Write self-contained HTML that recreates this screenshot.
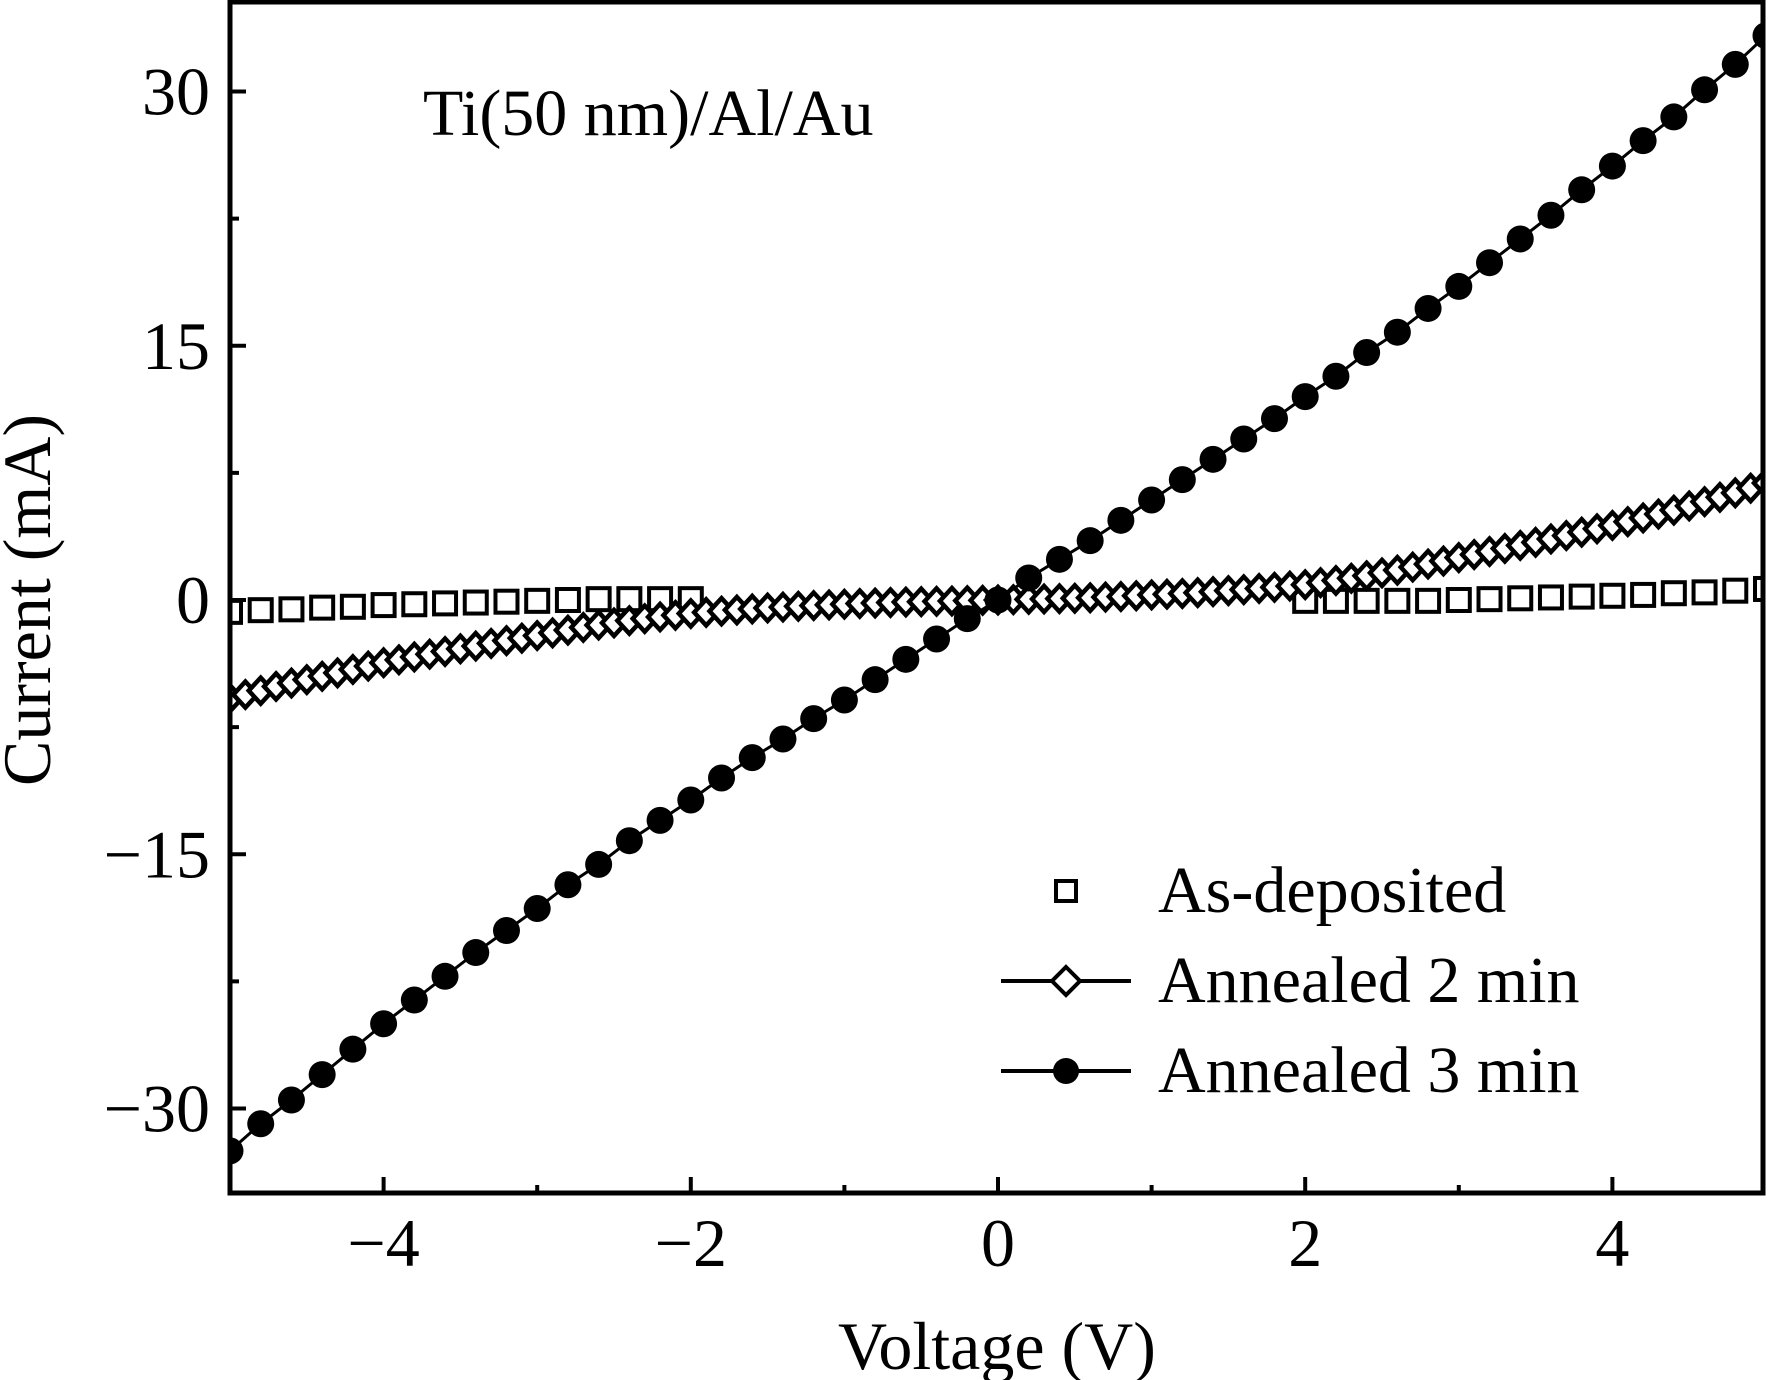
<!DOCTYPE html>
<html><head><meta charset="utf-8"><style>
html,body{margin:0;padding:0;background:#fff;}
svg{display:block;}
text{font-family:"Liberation Serif","Times New Roman",serif;fill:#000;}
</style></head><body>
<svg id="chart" width="1768" height="1380" viewBox="0 0 1768 1380" xmlns="http://www.w3.org/2000/svg">
<g id="plot"></g>
<rect x="230" y="2" width="1533" height="1191" fill="none" stroke="#000" stroke-width="5"/>
<g id="axes"></g>
<text x="423" y="135" font-size="66">Ti(50 nm)/Al/Au</text>
<text x="997" y="1369" font-size="68" text-anchor="middle">Voltage (V)</text>
<text transform="translate(50,600) rotate(-90)" font-size="68" text-anchor="middle">Current (mA)</text>
<g>
  <rect x="1056" y="881" width="20" height="20" fill="#fff" stroke="#000" stroke-width="4"/>
  <text x="1158" y="912" font-size="66">As-deposited</text>
  <line x1="1001" y1="981" x2="1131" y2="981" stroke="#000" stroke-width="4"/>
  <polygon points="1066,967 1080,981 1066,995 1052,981" fill="#fff" stroke="#000" stroke-width="4"/>
  <text x="1158" y="1002" font-size="66">Annealed 2 min</text>
  <line x1="1001" y1="1071" x2="1131" y2="1071" stroke="#000" stroke-width="4"/>
  <circle cx="1066" cy="1071" r="13" fill="#000"/>
  <text x="1158" y="1092" font-size="66">Annealed 3 min</text>
</g>
</svg>
<script>
const xTicks = [-4, -2, 0, 2, 4];
const xTickLabels = ["\u22124", "\u22122", "0", "2", "4"];
const xMinorTicks = [-3, -1, 1, 3];
const yTicks = [30, 15, 0, -15, -30];
const yTickLabels = ["30", "15", "0", "\u221215", "\u221230"];
const yMinorTicks = [22.5, 7.5, -7.5, -22.5];

const v3 = [-5,-4.8,-4.6,-4.4,-4.2,-4,-3.8,-3.6,-3.4,-3.2,-3,-2.8,-2.6,-2.4,-2.2,-2,-1.8,-1.6,-1.4,-1.2,-1,-0.8,-0.6,-0.4,-0.2,0,0.2,0.4,0.6,0.8,1,1.2,1.4,1.6,1.8,2,2.2,2.4,2.6,2.8,3,3.2,3.4,3.6,3.8,4,4.2,4.4,4.6,4.8,5];
const i3 = [-32.5,-30.9,-29.5,-28,-26.5,-25,-23.6,-22.2,-20.8,-19.5,-18.2,-16.8,-15.6,-14.2,-13,-11.8,-10.5,-9.3,-8.2,-7,-5.9,-4.7,-3.5,-2.3,-1.1,0,1.3,2.4,3.5,4.7,5.9,7.1,8.3,9.5,10.7,12,13.2,14.6,15.8,17.2,18.5,19.9,21.3,22.7,24.2,25.6,27.1,28.5,30.1,31.6,33.3];

const i2neg = [0,-0.02,-0.04,-0.06,-0.08,-0.1,-0.12,-0.15,-0.18,-0.21,-0.25,-0.29,-0.33,-0.37,-0.42,-0.47,-0.53,-0.59,-0.66,-0.73,-0.8,-0.9,-1.0,-1.1,-1.22,-1.35,-1.48,-1.62,-1.78,-1.94,-2.1,-2.25,-2.4,-2.56,-2.72,-2.88,-3.04,-3.2,-3.36,-3.53,-3.7,-3.9,-4.1,-4.3,-4.5,-4.7,-4.9,-5.1,-5.35,-5.58,-5.8];
const i2pos = [0,0.02,0.04,0.06,0.08,0.1,0.13,0.17,0.2,0.25,0.3,0.34,0.38,0.43,0.49,0.55,0.61,0.68,0.75,0.82,0.9,1.02,1.15,1.28,1.43,1.6,1.76,1.94,2.12,2.3,2.5,2.68,2.86,3.04,3.22,3.4,3.6,3.8,4.0,4.2,4.4,4.62,4.84,5.07,5.3,5.55,5.8,6.06,6.32,6.6,6.9];

const v1 = [-5,-4.8,-4.6,-4.4,-4.2,-4,-3.8,-3.6,-3.4,-3.2,-3,-2.8,-2.6,-2.4,-2.2,-2,2,2.2,2.4,2.6,2.8,3,3.2,3.4,3.6,3.8,4,4.2,4.4,4.6,4.8,5];
const i1 = [-0.7,-0.6,-0.55,-0.45,-0.4,-0.3,-0.25,-0.2,-0.15,-0.1,-0.05,0,0.05,0.05,0.05,0.05,-0.05,-0.05,-0.05,-0.05,-0.05,0,0.05,0.1,0.15,0.2,0.25,0.3,0.4,0.45,0.55,0.65];

const NS = "http://www.w3.org/2000/svg";
const X0 = 998, XK = 153.6, Y0 = 600, YK = 16.95;
function xs(v){ return X0 + v * XK; }
function ys(i){ return Y0 - i * YK; }
function mk(tag, attrs, parent){ const e = document.createElementNS(NS, tag); for (const k in attrs) e.setAttribute(k, attrs[k]); parent.appendChild(e); return e; }

const plot = document.getElementById('plot');
const axes = document.getElementById('axes');
const clip = mk('clipPath', {id:'clipP'}, document.getElementById('chart'));
mk('rect', {x:230, y:2, width:1533, height:1191}, clip);
plot.setAttribute('clip-path', 'url(#clipP)');

v1.forEach((v, k) => {
  const r = mk('rect', {x: xs(v) - 11, y: ys(i1[k]) - 11, width: 22, height: 22, fill: '#fff', stroke: '#000', 'stroke-width': 4}, plot);
  
  
});
const v2 = [], i2 = [];
for (let k = i2neg.length - 1; k >= 1; k--) { v2.push(-k * 0.1); i2.push(i2neg[k]); }
for (let k = 0; k < i2pos.length; k++) { v2.push(k * 0.1); i2.push(i2pos[k]); }
const l2 = mk('polyline', {points: v2.map((v, k) => xs(v) + ',' + ys(i2[k])).join(' '), fill: 'none', stroke: '#000', 'stroke-width': 3}, plot);


v2.forEach((v, k) => {
  const cx = xs(v), cy = ys(i2[k]);
  const d = mk('polygon', {points: `${cx},${cy-13} ${cx+12},${cy} ${cx},${cy+13} ${cx-12},${cy}`, fill: '#fff', stroke: '#000', 'stroke-width': 4.5}, plot);
  
  
});
const l3 = mk('polyline', {points: v3.map((v, k) => xs(v) + ',' + ys(i3[k])).join(' '), fill: 'none', stroke: '#000', 'stroke-width': 3}, plot);


v3.forEach((v, k) => {
  const c = mk('circle', {cx: xs(v), cy: ys(i3[k]), r: 13.5, fill: '#000'}, plot);
  
  
});

xTicks.forEach((v, k) => {
  const t = mk('line', {x1: xs(v), x2: xs(v), y1: 1193, y2: 1177, stroke: '#000', 'stroke-width': 4}, axes);
  
  
  const l = mk('text', {x: xs(v), y: 1266, 'font-size': 68, 'text-anchor': 'middle'}, axes);
  l.textContent = xTickLabels[k];
  
  
});
xMinorTicks.forEach(v => {
  const t = mk('line', {x1: xs(v), x2: xs(v), y1: 1193, y2: 1185, stroke: '#000', 'stroke-width': 4}, axes);
  
  
});
yTicks.forEach((v, k) => {
  const t = mk('line', {x1: 230, x2: 246, y1: ys(v), y2: ys(v), stroke: '#000', 'stroke-width': 4}, axes);
  
  
  const l = mk('text', {x: 210, y: ys(v) + 23, 'font-size': 68, 'text-anchor': 'end'}, axes);
  l.textContent = yTickLabels[k];
  
  
});
yMinorTicks.forEach(v => {
  const t = mk('line', {x1: 230, x2: 239, y1: ys(v), y2: ys(v), stroke: '#000', 'stroke-width': 4}, axes);
  
  
});
</script>
</body></html>
